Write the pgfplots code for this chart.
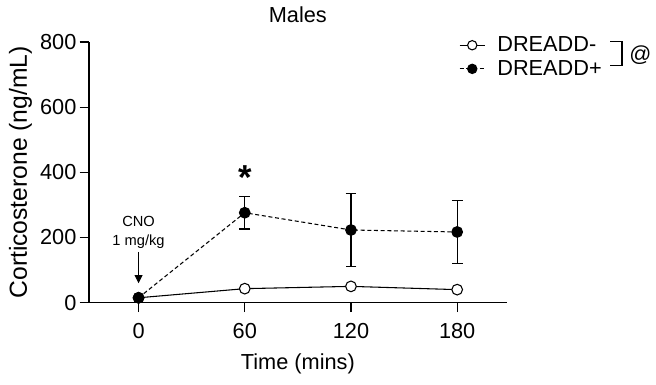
\documentclass[border=0pt]{standalone}
\usepackage{fontspec}
\setmainfont{Liberation Sans}
\usepackage{pgfplots}
\pgfplotsset{compat=1.18}
\usetikzlibrary{arrows.meta}
\newcommand\bigf{\fontsize{16.3}{19.5}\selectfont}
\newcommand\ylf{\fontsize{18.5}{22}\selectfont}
\newcommand\smallf{\fontsize{11}{13.2}\selectfont}
\begin{document}
\begin{tikzpicture}
\useasboundingbox (-66.75pt,-61.7pt) rectangle (425.25pt,227pt);
\begin{axis}[
  at={(0,0)}, anchor=south west,
  scale only axis, width=313.3pt, height=195.5pt,
  xmin=-28, xmax=208, ymin=0, ymax=800,
  axis lines*=left,
  axis line style={line width=1pt, black},
  xtick={0,60,120,180}, ytick={0,200,400,600,800},
  tick align=outside,
  major tick length=7pt,
  tick style={line width=1pt, black},
  /pgf/number format/assume math mode=true,
  tick label style={font=\bigf},
  yticklabel style={anchor=east, inner sep=0pt, xshift=-2.25pt},
  xticklabel style={anchor=north, inner sep=0pt, yshift=-8pt},
  xlabel={Time (mins)},
  ylabel={Corticosterone (ng/mL)},
  xlabel style={font=\bigf, at={(axis description cs:0.5,-0.258)}, anchor=base},
  ylabel style={font=\ylf, at={(axis description cs:-0.1485,0.5)}, anchor=base},
  title={Males},
  title style={font=\bigf, at={(axis description cs:0.5,1)}, anchor=base, inner sep=0pt, yshift=8.5pt},
  clip=false,
  legend style={at={(axis cs:181,821)}, anchor=north west, draw=none, fill=none,
    font=\bigf, inner sep=0pt, row sep=3pt, nodes={inner sep=1pt}, cells={anchor=west},
    /tikz/every odd column/.append style={column sep=8pt}},
  legend image code/.code={\draw[mark repeat=2, mark phase=2, mark size=3.5pt] plot coordinates {(0cm,0cm)(0.33cm,0cm)(0.66cm,0cm)};},
]
\addplot[black, line width=0.8pt, mark=*, mark size=4pt, mark options={fill=white, line width=0.8pt}]
  coordinates {(0,15) (60,43) (120,50) (180,40)};
\addlegendentry{DREADD-}
\addplot[black, line width=0.8pt, dash pattern=on 3pt off 2pt, mark=*, mark size=4pt,
  mark options={solid, fill=black},
  error bars/.cd, y dir=both, y explicit,
  error mark options={rotate=90, mark size=4pt, line width=1pt, solid, black},
  error bar style={line width=1pt, solid, black}]
  coordinates {(0,15) +- (0,0) (60,276) +- (0,50) (120,223) +- (0,113) (180,217) +- (0,97)};
\addlegendentry{DREADD+}
\draw[line width=1pt] (axis cs:266.4,801) -- (axis cs:273.1,801) -- (axis cs:273.1,727) -- (axis cs:266.4,727);
\node[font=\bigf, anchor=west, inner sep=0pt] at (axis cs:277.1,760) {@};
\node[font=\fontsize{26}{30}\selectfont\bfseries, anchor=base, inner sep=0pt] at (axis cs:60,346) {*};
\node[font=\smallf, anchor=base, inner sep=0pt] at (axis cs:0,235) {CNO};
\node[font=\smallf, anchor=base, inner sep=0pt] at (axis cs:0,176) {1 mg/kg};
\draw[-{Triangle[length=6.2pt,width=6pt]}, line width=0.8pt] (axis cs:0,156) -- (axis cs:0,59.5);
\end{axis}
\end{tikzpicture}
\end{document}
